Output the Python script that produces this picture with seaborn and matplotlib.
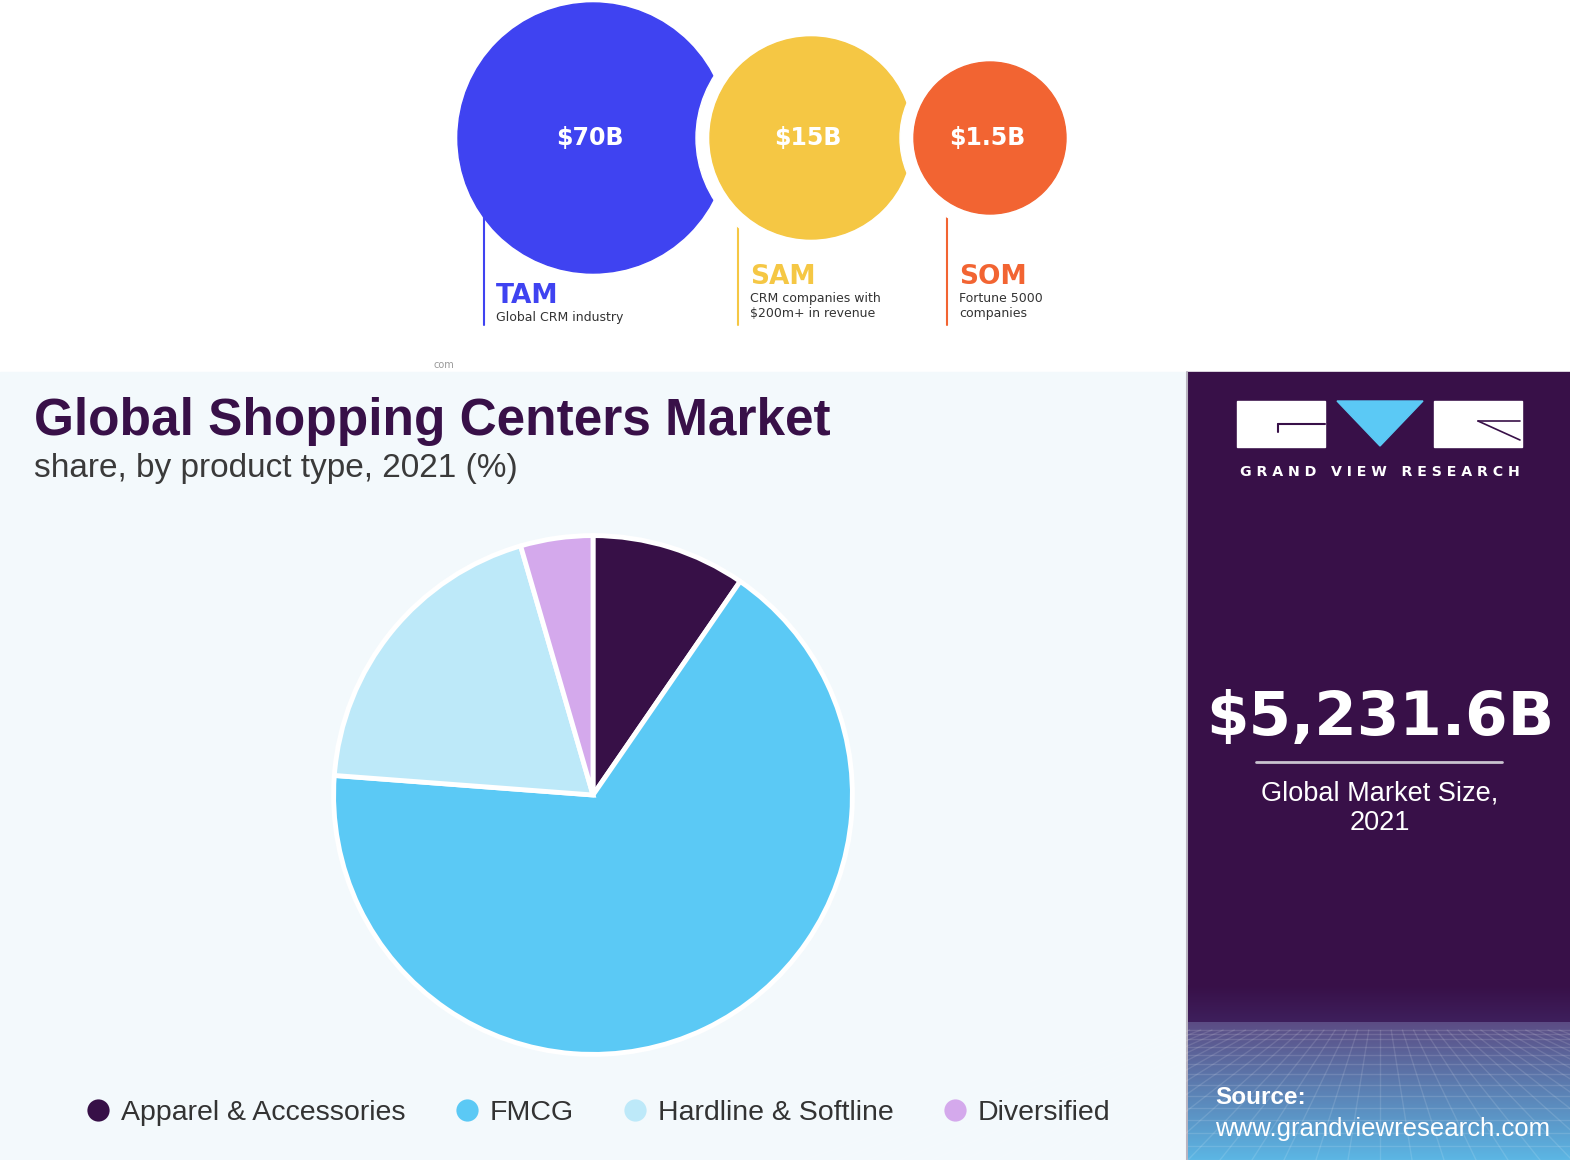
import matplotlib
matplotlib.use("Agg")
import matplotlib.pyplot as plt
import numpy as np
import seaborn as sns
from matplotlib.lines import Line2D
from matplotlib.patches import Circle, Polygon, Rectangle

# ---- data -------------------------------------------------------------
funnel_labels = ["TAM", "SAM", "SOM"]
funnel_values = ["$70B", "$15B", "$1.5B"]
funnel_desc = ["Global CRM industry", "CRM companies with\n$200m+ in revenue",
               "Fortune 5000\ncompanies"]

segments = ["Apparel & Accessories", "FMCG", "Hardline & Softline", "Diversified"]
shares = [9.6, 66.6, 19.3, 4.5]

market_size = "$5,231.6B"
market_label = "Global Market Size,\n2021"

# ---- style ------------------------------------------------------------
sns.set_theme(style="white")
plt.rcParams["font.family"] = ["DejaVu Sans"]
NARROW = ["Liberation Sans Narrow", "Liberation Sans", "DejaVu Sans"]
ARIAL = ["Liberation Sans", "DejaVu Sans"]

funnel_colors = ["#3f43f1", "#f5c744", "#f26432"]
pie_colors = sns.color_palette(["#371047", "#5bc9f5", "#bde9f9", "#d4a9ec"])
PURPLE = "#381048"
W, H = 1570, 1160

fig = plt.figure(figsize=(W / 100, H / 100), dpi=100)
bg = fig.add_axes([0, 0, 1, 1])
bg.set_xlim(0, W)
bg.set_ylim(H, 0)
bg.axis("off")

# backgrounds
bg.add_patch(Rectangle((0, 0), W, 372, color="white", zorder=0))
bg.add_patch(Rectangle((0, 372), 1187, H - 372, color="#f3f9fc", zorder=0))
bg.add_patch(Rectangle((1187, 372), W - 1187, H - 372, color=PURPLE, zorder=0))
bg.plot([1187, 1187], [372, H], color="#b9b4c0", lw=1.5, zorder=1)

# ---- top: TAM / SAM / SOM circles -------------------------------------
centers = [(593, 138), (811, 138), (990, 138)]
radii = [135, 101, 76]
gap = 14
for i, ((cx, cy), r) in enumerate(zip(centers, radii)):
    if i > 0:
        bg.add_patch(Circle((cx, cy), r + gap, color="white", zorder=2 + 2 * i - 1))
    bg.add_patch(Circle((cx, cy), r, color=funnel_colors[i], zorder=2 + 2 * i))
    bg.text(cx - 3, cy, funnel_values[i], color="white", fontsize=17,
            fontweight="bold", ha="center", va="center", zorder=10)

line_x = [484, 738, 947]
line_top = [215, 205, 198]
label_y = [296, 277, 277]
for i in range(3):
    bg.plot([line_x[i], line_x[i]], [line_top[i], 325], color=funnel_colors[i],
            lw=1.5, zorder=1)
    bg.text(line_x[i] + 12, label_y[i], funnel_labels[i], color=funnel_colors[i],
            fontsize=19, fontweight="bold", ha="left", va="center", zorder=10)
    bg.text(line_x[i] + 12, label_y[i] + 15, funnel_desc[i], color="#333333",
            fontsize=9, ha="left", va="top", linespacing=1.2, zorder=10)
bg.text(434, 365, "com", color="#999999", fontsize=7, ha="left", va="center")

# ---- bottom-left: pie -------------------------------------------------
bg.text(34, 421, "Global Shopping Centers Market", family=NARROW, fontsize=37,
        fontweight="bold", color=PURPLE, ha="left", va="center")
bg.text(34, 469, "share, by product type, 2021 (%)", family=NARROW, fontsize=24,
        color="#3a3a3a", ha="left", va="center")

pcx, pcy, pr = 593, 795, 262
pie_ax = fig.add_axes([(pcx - pr) / W, (H - pcy - pr) / H, 2 * pr / W, 2 * pr / H])
pie_ax.pie(shares, colors=pie_colors, startangle=90, counterclock=False,
           radius=1.0, wedgeprops=dict(edgecolor="white", linewidth=3.5))
pie_ax.set_xlim(-1.01, 1.01)
pie_ax.set_ylim(-1.01, 1.01)
pie_ax.set_aspect("equal")
pie_ax.axis("off")

handles = [Line2D([], [], marker="o", ls="none", markersize=16,
                  markerfacecolor=c, markeredgecolor="none") for c in pie_colors]
leg = bg.legend(handles, segments, loc="center", bbox_to_anchor=(597, 1113),
                bbox_transform=bg.transData, ncol=4, frameon=False,
                handletextpad=0.3, columnspacing=1.65, handlelength=1.0,
                prop=dict(family=NARROW, size=20.5))
for t in leg.get_texts():
    t.set_color("#333333")

# ---- bottom-right: sidebar --------------------------------------------
# gradient footer with a faint grid
grad = np.linspace(0, 1, 200)[:, None]
c0 = np.array(matplotlib.colors.to_rgb("#5c4c84"))
c1 = np.array(matplotlib.colors.to_rgb("#5bb6e4"))
img = c0[None, None, :] * (1 - grad[..., None]) + c1[None, None, :] * grad[..., None]
bg.imshow(img, extent=(1188, W, H, 1022), aspect="auto", zorder=1)
top = np.array(matplotlib.colors.to_rgb(PURPLE))
fade = np.linspace(0, 1, 50)[:, None]
img2 = top[None, None, :] * (1 - fade[..., None]) + \
    np.array(matplotlib.colors.to_rgb("#3e1f5c"))[None, None, :] * fade[..., None]
bg.imshow(img2, extent=(1188, W, 1022, 985), aspect="auto", zorder=1)
for k in range(14):
    y = 1030 + 130 * (k / 13) ** 1.4
    bg.plot([1188, W], [y, y], color="white", alpha=0.13, lw=1, zorder=2)
for k in range(-12, 26):
    xb = 1188 + k * 32
    bg.plot([1380 + (xb - 1380) * 0.35, xb], [1030, H], color="white",
            alpha=0.12, lw=1, zorder=2)

# logo
bg.add_patch(Rectangle((1237, 401), 88, 46, color="white", zorder=3))
bg.add_patch(Rectangle((1434, 401), 88, 46, color="white", zorder=3))
bg.add_patch(Polygon([(1337, 401), (1423, 401), (1380, 446)], closed=True,
                     color="#5bc9f5", zorder=3))
bg.plot([1278, 1325], [424, 424], color=PURPLE, lw=1.5, zorder=4)
bg.plot([1278, 1278], [424, 432], color=PURPLE, lw=1.5, zorder=4)
bg.plot([1478, 1520], [421, 440], color=PURPLE, lw=1.2, zorder=4)
bg.plot([1478, 1520], [421, 421], color=PURPLE, lw=1.2, zorder=4)
bg.text(1380, 472, "G R A N D   V I E W   R E S E A R C H", color="white",
        fontsize=10.2, fontweight="bold", ha="center", va="center", zorder=4)

bg.text(1380, 718, market_size, color="white", fontsize=44, fontweight="bold",
        ha="center", va="center", zorder=4)
bg.plot([1256, 1502], [762, 762], color="#c9c3cf", lw=2, zorder=4)
bg.text(1380, 808, market_label, family=ARIAL, color="white", fontsize=19.5,
        ha="center", va="center", linespacing=1.2, zorder=4)

bg.text(1215, 1098, "Source:", family=ARIAL, color="white", fontsize=17.5,
        fontweight="bold", ha="left", va="center", zorder=4)
bg.text(1215, 1129, "www.grandviewresearch.com", family=ARIAL, color="white",
        fontsize=18.5, ha="left", va="center", zorder=4)

fig.savefig("out.png", dpi=100)
